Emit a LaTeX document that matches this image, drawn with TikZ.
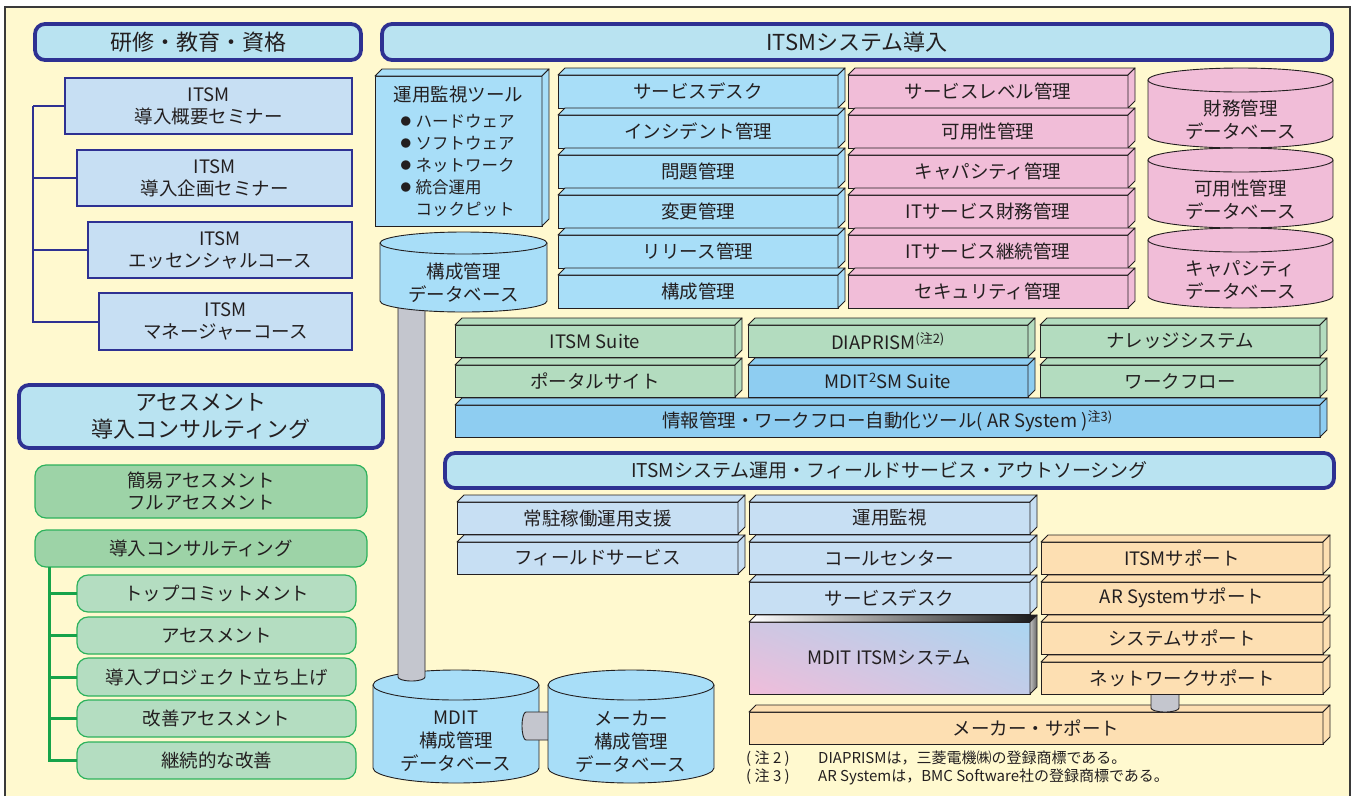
\documentclass[tikz,border=0pt]{standalone}
\usepackage{fontspec}
\setmainfont{Noto Sans CJK JP}
\usetikzlibrary{calc,shadings}
\definecolor{bgy}{HTML}{FFF9CF}
\definecolor{framec}{HTML}{3A3A3A}
\definecolor{txtc}{HTML}{231F20}
\definecolor{edgec}{HTML}{231F20}
\definecolor{navy}{HTML}{2E3192}
\definecolor{ttlf}{HTML}{B9E3F1}
\definecolor{lblue}{HTML}{C7DFF3}
\definecolor{gmid}{HTML}{9DD3A7}
\definecolor{glight}{HTML}{B4DDC1}
\definecolor{gline}{HTML}{2DB25C}
\definecolor{gtreec}{HTML}{16A34A}
\definecolor{skyb}{HTML}{A8DEF8}
\definecolor{pinkc}{HTML}{F1BDD8}
\definecolor{grn}{HTML}{B3DCBF}
\definecolor{dblue}{HTML}{8ECDF1}
\definecolor{orng}{HTML}{FDDFB2}
\definecolor{pipeg}{HTML}{C4C6CE}
\definecolor{mxa}{HTML}{CFC6E2}
\definecolor{mxb}{HTML}{C2CCE8}
\definecolor{bla}{HTML}{ABD6F1}
\definecolor{pka}{HTML}{F0BDDA}

\newcommand{\rnode}[7]{%
  \pgfmathsetmacro{\tdW}{#5-#3}\pgfmathsetmacro{\tdH}{#6-#4}%
  \node[#1, minimum width=\tdW pt, minimum height=\tdH pt, anchor=north west] (#2) at (#3,#4) {#7};}
\newcommand{\tdbox}[7]{%
  \pgfmathsetmacro{\tdW}{#4-#2}\pgfmathsetmacro{\tdH}{#5-#3}%
  \node[box3d, fill=#6, minimum width=\tdW pt, minimum height=\tdH pt, anchor=north west] (#1) at (#2,#3) {#7};
  \draw[fill=#6, edge3d] (#1.north west) -- ++(7pt,7pt) -- ([shift={(7pt,7pt)}]#1.north east) -- (#1.north east) -- cycle;
  \draw[fill=#6, edge3d] (#1.north east) -- ++(7pt,7pt) -- ([shift={(7pt,7pt)}]#1.south east) -- (#1.south east) -- cycle;}
\newcommand{\cylnode}[8]{%
  \pgfmathsetmacro{\cyRx}{(#4-#2)/2}%
  \pgfmathsetmacro{\cyCx}{(#4+#2)/2}%
  \pgfmathsetmacro{\cyT}{#3+#6}%
  \pgfmathsetmacro{\cyB}{#5-#6}%
  \pgfmathsetmacro{\cyM}{(#3+2*#6+#5)/2}%
  \draw[fill=#7, edge3d] (#2,\cyT) -- (#2,\cyB) arc[start angle=180, end angle=360, x radius=\cyRx pt, y radius=#6pt] -- (#4,\cyT) -- cycle;
  \draw[fill=#7, edge3d] (\cyCx,\cyT) ellipse[x radius=\cyRx pt, y radius=#6pt];
  \node[cyltext] (#1) at (\cyCx,\cyM) {#8};}
\newcommand{\bul}{\makebox[15pt][l]{\raisebox{1.5pt}{\fontsize{10.5}{12}\selectfont●}}}

\begin{document}
\begin{tikzpicture}[x=1pt,y=-1pt,
  every node/.style={text=txtc},
  box3d/.style={rectangle, draw=edgec, line width=0.9pt, inner sep=0pt, outer sep=0pt, align=center, font=\fontsize{18.5}{22}\selectfont},
  edge3d/.style={draw=edgec, line width=0.9pt, line join=round},
  title/.style={rectangle, rounded corners=10pt, draw=navy, line width=3.8pt, fill=ttlf, inner sep=0pt, outer sep=0pt, align=center, font=\fontsize{22}{27}\selectfont},
  lbox/.style={rectangle, draw=navy, line width=1.2pt, fill=lblue, inner sep=0pt, outer sep=0pt, align=center, font=\fontsize{18.5}{22}\selectfont},
  gbox/.style={rectangle, rounded corners=11pt, draw=gline, line width=1.2pt, fill=gmid, inner sep=0pt, outer sep=0pt, align=center, font=\fontsize{18.5}{22}\selectfont},
  gsub/.style={gbox, fill=glight},
  navyline/.style={draw=navy, line width=2pt},
  gtree/.style={draw=gtreec, line width=3pt},
  pipe/.style={fill=pipeg, draw=edgec, line width=0.9pt},
  cyltext/.style={align=center, inner sep=0pt, font=\fontsize{18.5}{23}\selectfont},
  fn/.style={font=\fontsize{15}{18}\selectfont, inner sep=0pt}]
\useasboundingbox (0,0) rectangle (1354,796);
\fill[white] (0,0) rectangle (1354,796);
\fill[bgy] (5,7) rectangle (1350,796);
\draw[framec, line width=1.2pt] (5,796) -- (5,7) -- (1350,7) -- (1350,796);

% ---------- left: training ----------
\rnode{title}{t1}{35}{24}{361}{60}{研修・教育・資格}
\rnode{lbox}{l1}{65}{78}{352}{134}{ITSM\\導入概要セミナー}
\rnode{lbox}{l2}{77}{150}{352}{206}{ITSM\\導入企画セミナー}
\rnode{lbox}{l3}{88}{222}{352}{278}{ITSM\\エッセンシャルコース}
\rnode{lbox}{l4}{99}{293}{352}{350}{ITSM\\マネージャーコース}
\coordinate (lt) at (33,106);
\draw[navyline] (lt) |- (l4.west);
\draw[navyline] (lt) -- (l1.west);
\draw[navyline] (l2.west -| lt) -- (l2.west);
\draw[navyline] (l3.west -| lt) -- (l3.west);

% ---------- left: assessment ----------
\rnode{title}{t2}{19}{385}{383}{448}{アセスメント\\導入コンサルティング}
\rnode{gbox}{g1}{35}{465}{367}{518}{簡易アセスメント\\フルアセスメント}
\rnode{gbox}{g2}{35}{530}{367}{567}{導入コンサルティング}
\rnode{gsub}{s1}{77}{575}{356}{612}{トップコミットメント}
\rnode{gsub}{s2}{77}{617}{356}{654}{アセスメント}
\rnode{gsub}{s3}{77}{658}{356}{696}{導入プロジェクト立ち上げ}
\rnode{gsub}{s4}{77}{700}{356}{737}{改善アセスメント}
\rnode{gsub}{s5}{77}{742}{356}{779}{継続的な改善}
\coordinate (gt) at (49,567);
\draw[gtree] (gt) |- (s5.west);
\foreach \s in {s1,s2,s3,s4} \draw[gtree] (\s.west -| gt) -- (\s.west);

% ---------- right: ITSM system ----------
\rnode{title}{t3}{382}{24}{1332}{60}{ITSMシステム導入}
\tdbox{mon}{375}{76}{542}{226}{skyb}{{\fontsize{18.5}{21}\selectfont 運用監視ツール}\\[4pt]
  {\fontsize{16.5}{21}\selectfont\makebox[116pt][l]{\bul ハードウェア}}\\
  {\fontsize{16.5}{21}\selectfont\makebox[116pt][l]{\bul ソフトウェア}}\\
  {\fontsize{16.5}{21}\selectfont\makebox[116pt][l]{\bul ネットワーク}}\\
  {\fontsize{16.5}{21}\selectfont\makebox[116pt][l]{\bul 統合運用}}\\
  {\fontsize{16.5}{21}\selectfont\makebox[116pt][l]{\hspace{15pt}コックピット}}}

\tdbox{b1}{558}{75}{838}{108}{skyb}{サービスデスク}
\tdbox{b2}{558}{115}{838}{148}{skyb}{インシデント管理}
\tdbox{b3}{558}{155}{838}{188}{skyb}{問題管理}
\tdbox{b4}{558}{195}{838}{228}{skyb}{変更管理}
\tdbox{b5}{558}{235}{838}{268}{skyb}{リリース管理}
\tdbox{b6}{558}{275}{838}{308}{skyb}{構成管理}

\tdbox{p1}{848}{75}{1128}{108}{pinkc}{サービスレベル管理}
\tdbox{p2}{848}{115}{1128}{148}{pinkc}{可用性管理}
\tdbox{p3}{848}{155}{1128}{188}{pinkc}{キャパシティ管理}
\tdbox{p4}{848}{195}{1128}{228}{pinkc}{ITサービス財務管理}
\tdbox{p5}{848}{235}{1128}{268}{pinkc}{ITサービス継続管理}
\tdbox{p6}{848}{275}{1128}{308}{pinkc}{セキュリティ管理}

\cylnode{c1}{1148}{68}{1333}{148}{12}{pinkc}{財務管理\\データベース}
\cylnode{c2}{1148}{148}{1333}{228}{12}{pinkc}{可用性管理\\データベース}
\cylnode{c3}{1148}{228}{1333}{308}{12}{pinkc}{キャパシティ\\データベース}

\tdbox{r1}{455}{325}{735}{357}{grn}{ITSM Suite}
\tdbox{r2}{748}{325}{1028}{357}{grn}{DIAPRISM\textsuperscript{(注2)}}
\tdbox{r3}{1040}{325}{1320}{357}{grn}{ナレッジシステム}
\tdbox{r4}{455}{365}{735}{397}{grn}{ポータルサイト}
\tdbox{r5}{748}{365}{1028}{397}{dblue}{MDIT\textsuperscript{2}SM Suite}
\tdbox{r6}{1040}{365}{1320}{397}{grn}{ワークフロー}
\tdbox{r7}{455}{405}{1320}{437}{dblue}{情報管理・ワークフロー自動化ツール( AR System )\textsuperscript{注3)}}

% ---------- operation / outsourcing ----------
\rnode{title,font=\fontsize{19}{23}\selectfont}{t4}{445}{453}{1334}{488}{ITSMシステム運用・フィールドサービス・アウトソーシング}
\tdbox{o1}{457}{502}{738}{534}{lblue}{常駐稼働運用支援}
\tdbox{o2}{457}{542}{738}{574}{lblue}{フィールドサービス}
\tdbox{o3}{749}{502}{1030}{534}{lblue}{運用監視}
\tdbox{o4}{749}{542}{1030}{574}{lblue}{コールセンター}
\tdbox{o5}{749}{582}{1030}{614}{lblue}{サービスデスク}

% MDIT ITSM system box with gradients
\shade[upper left=mxa, upper right=bla, lower left=pka, lower right=mxb] (749,622) rectangle (1030,694);
\rnode{box3d}{mdit}{749}{622}{1030}{694}{MDIT ITSMシステム}
\shade[left color=white, right color=black!90] (mdit.north west) -- ++(7pt,7pt) -- ([shift={(7pt,7pt)}]mdit.north east) -- (mdit.north east) -- cycle;
\draw[edge3d] (mdit.north west) -- ++(7pt,7pt) -- ([shift={(7pt,7pt)}]mdit.north east) -- (mdit.north east) -- cycle;
\shade[left color=black!25, right color=black!60] (mdit.north east) -- ++(7pt,7pt) -- ([shift={(7pt,7pt)}]mdit.south east) -- (mdit.south east) -- cycle;
\draw[edge3d] (mdit.north east) -- ++(7pt,7pt) -- ([shift={(7pt,7pt)}]mdit.south east) -- (mdit.south east) -- cycle;

\tdbox{ms}{749}{712}{1323}{744}{orng}{メーカー・サポート}
\draw[pipe] (1151,688) -- (1151,708) arc[start angle=180, end angle=360, x radius=14pt, y radius=4pt] -- (1179,688) -- cycle;
\tdbox{a1}{1041}{542}{1323}{574}{orng}{ITSMサポート}
\tdbox{a2}{1041}{582}{1323}{614}{orng}{AR Systemサポート}
\tdbox{a3}{1041}{622}{1323}{654}{orng}{システムサポート}
\tdbox{a4}{1041}{662}{1323}{694}{orng}{ネットワークサポート}

% ---------- databases and pipes ----------
\cylnode{mdb}{373}{670}{539}{783}{15}{skyb}{MDIT\\構成管理\\データベース}
\draw[pipe] (398,300) -- (398,677) arc[start angle=180, end angle=360, x radius=13.5pt, y radius=4pt] -- (425,300) -- cycle;
\cylnode{cdb}{380}{232}{547}{312}{11}{skyb}{構成管理\\データベース}
\draw[pipe] (560,712) -- (526,712) arc[start angle=90, end angle=270, x radius=4pt, y radius=14pt] -- (560,740) -- cycle;
\cylnode{vdb}{548}{670}{714}{783}{15}{skyb}{メーカー\\構成管理\\データベース}

% ---------- footnotes ----------
\node[fn, anchor=west] (n2) at (746,759) {\makebox[72pt][l]{( 注 2 )}DIAPRISMは，三菱電機㈱の登録商標である。};
\node[fn, anchor=west] (n3) at (746,777) {\makebox[72pt][l]{( 注 3 )}AR Systemは，BMC Software社の登録商標である。};
\end{tikzpicture}
\end{document}
